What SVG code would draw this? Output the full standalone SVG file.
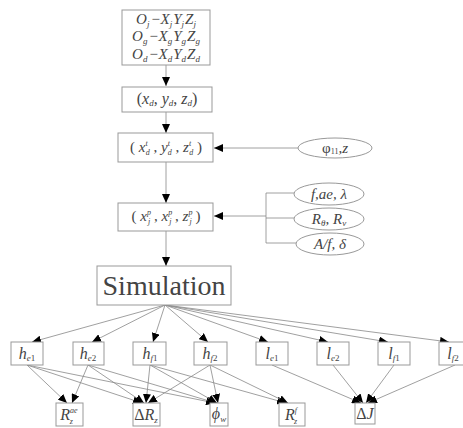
<svg xmlns="http://www.w3.org/2000/svg" width="463" height="428" viewBox="0 0 463 428">
<style>
.box{fill:#fff;stroke:#999;stroke-width:1}
.ell{fill:#fff;stroke:#999;stroke-width:1}
.ln{fill:none;stroke:#888;stroke-width:0.8}
.ar{fill:none;stroke:#888;stroke-width:0.8;marker-end:url(#ah)}
.t{fill:#444;text-anchor:middle}
.it{font-style:italic}
.s{font-size:9px}
.ss{font-size:8px}
</style>
<defs>
<marker id="ah" markerUnits="userSpaceOnUse" markerWidth="10" markerHeight="8" refX="9" refY="4" orient="auto">
<path d="M0,0 L9,4 L0,8 Z" fill="#000"/>
</marker>
</defs>
<rect width="463" height="428" fill="#fff"/>

<g id="connectors">
<line class="ar" x1="166" y1="65" x2="166" y2="86"/>
<line class="ar" x1="166" y1="112" x2="166" y2="133"/>
<line class="ar" x1="166" y1="162" x2="166" y2="203"/>
<line class="ar" x1="166" y1="231" x2="166" y2="266"/>
<line class="ar" x1="298" y1="148" x2="214" y2="148"/>
<polyline class="ln" points="294,193 266,193 266,243 296,243"/>
<line class="ln" x1="266" y1="218" x2="294" y2="218"/>
<line class="ar" x1="266" y1="216" x2="214" y2="216"/>
<line class="ar" x1="165" y1="305" x2="32" y2="342"/>
<line class="ar" x1="165" y1="305" x2="92" y2="342"/>
<line class="ar" x1="165" y1="305" x2="153" y2="342"/>
<line class="ar" x1="165" y1="305" x2="208" y2="342"/>
<line class="ar" x1="165" y1="305" x2="268" y2="342"/>
<line class="ar" x1="165" y1="305" x2="328" y2="342"/>
<line class="ar" x1="165" y1="305" x2="388" y2="342"/>
<line class="ar" x1="165" y1="305" x2="449" y2="342"/>
<line class="ar" x1="27" y1="365" x2="67" y2="403"/>
<line class="ar" x1="27" y1="365" x2="142" y2="403"/>
<line class="ar" x1="27" y1="365" x2="215" y2="403"/>
<line class="ar" x1="88" y1="365" x2="72" y2="403"/>
<line class="ar" x1="88" y1="365" x2="144" y2="403"/>
<line class="ar" x1="88" y1="365" x2="216" y2="403"/>
<line class="ar" x1="150" y1="365" x2="146" y2="403"/>
<line class="ar" x1="150" y1="365" x2="217" y2="403"/>
<line class="ar" x1="150" y1="365" x2="286" y2="403"/>
<line class="ar" x1="210" y1="365" x2="148" y2="403"/>
<line class="ar" x1="210" y1="365" x2="218" y2="403"/>
<line class="ar" x1="210" y1="365" x2="288" y2="403"/>
<line class="ar" x1="272" y1="365" x2="361" y2="403"/>
<line class="ar" x1="333" y1="365" x2="363" y2="403"/>
<line class="ar" x1="394" y1="365" x2="366" y2="403"/>
<line class="ar" x1="455" y1="365" x2="368" y2="403"/>
</g>

<g font-family="Liberation Serif, Times New Roman, serif">
<g id="n-frames">
<rect class="box" x="122" y="10" width="88" height="55"/>
<text class="t it" x="166" y="24" font-size="15">O<tspan class="s" dy="3">j</tspan><tspan dy="-3" dx="1">−X</tspan><tspan class="s" dy="3">j</tspan><tspan dy="-3" dx="1">Y</tspan><tspan class="s" dy="3">j</tspan><tspan dy="-3" dx="1">Z</tspan><tspan class="s" dy="3">j</tspan></text>
<text class="t it" x="166" y="41" font-size="15">O<tspan class="s" dy="3">g</tspan><tspan dy="-3" dx="1">−X</tspan><tspan class="s" dy="3">g</tspan><tspan dy="-3" dx="1">Y</tspan><tspan class="s" dy="3">g</tspan><tspan dy="-3" dx="1">Z</tspan><tspan class="s" dy="3">g</tspan></text>
<text class="t it" x="166" y="59" font-size="15">O<tspan class="s" dy="3">d</tspan><tspan dy="-3" dx="1">−X</tspan><tspan class="s" dy="3">d</tspan><tspan dy="-3" dx="1">Y</tspan><tspan class="s" dy="3">d</tspan><tspan dy="-3" dx="1">Z</tspan><tspan class="s" dy="3">d</tspan></text>
</g>

<g id="n-xd">
<rect class="box" x="122" y="87" width="90" height="25"/>
<text class="t" x="167" y="104" font-size="16">(<tspan class="it">x</tspan><tspan class="s it" dy="2">d</tspan><tspan dy="-2">,  </tspan><tspan class="it">y</tspan><tspan class="s it" dy="2">d</tspan><tspan dy="-2">,  </tspan><tspan class="it">z</tspan><tspan class="s it" dy="2">d</tspan><tspan dy="-2">)</tspan></text>
</g>

<g id="n-xdt">
<rect class="box" x="118" y="133" width="95" height="29"/>
<text class="t" x="166" y="152" font-size="15">(  <tspan class="it">x</tspan><tspan class="ss it" dy="-6">t</tspan><tspan class="ss it" dx="-2" dy="9">d</tspan><tspan dy="-3"> , </tspan><tspan class="it">y</tspan><tspan class="ss it" dy="-6">t</tspan><tspan class="ss it" dx="-2" dy="9">d</tspan><tspan dy="-3"> , </tspan><tspan class="it">z</tspan><tspan class="ss it" dy="-6">t</tspan><tspan class="ss it" dx="-2" dy="9">d</tspan><tspan dy="-3">  )</tspan></text>
</g>

<g id="n-xjp">
<rect class="box" x="118" y="203" width="95" height="28"/>
<text class="t" x="166" y="221" font-size="15">( <tspan class="it">x</tspan><tspan class="ss it" dy="-6">p</tspan><tspan class="ss it" dx="-3" dy="9">j</tspan><tspan dy="-3"> , </tspan><tspan class="it">x</tspan><tspan class="ss it" dy="-6">p</tspan><tspan class="ss it" dx="-3" dy="9">j</tspan><tspan dy="-3"> , </tspan><tspan class="it">z</tspan><tspan class="ss it" dy="-6">p</tspan><tspan class="ss it" dx="-3" dy="9">j</tspan><tspan dy="-3"> )</tspan></text>
</g>

<g id="n-phi">
<ellipse class="ell" cx="335" cy="148" rx="37" ry="10"/>
<text class="t" x="335" y="153" font-size="15">φ<tspan class="ss" dy="1">11</tspan><tspan dy="-1" class="it">,z</tspan></text>
</g>

<g id="n-fae">
<ellipse class="ell" cx="329" cy="194" rx="35" ry="11"/>
<text class="t it" x="329" y="199" font-size="15">f,ae, λ</text>
</g>

<g id="n-r">
<ellipse class="ell" cx="329" cy="219" rx="35" ry="11"/>
<text class="t it" x="329" y="224" font-size="15">R<tspan class="s" dy="2">θ</tspan><tspan dy="-2">, R</tspan><tspan class="s" dy="2">v</tspan></text>
</g>

<g id="n-af">
<ellipse class="ell" cx="330" cy="244" rx="34" ry="11"/>
<text class="t it" x="330" y="249" font-size="15">A/f, δ</text>
</g>

<g id="n-sim">
<rect class="box" x="97" y="266" width="134" height="39"/>
<text class="t" x="164" y="295" font-size="28">Simulation</text>
</g>

<g id="n-he1"><rect class="box" x="11" y="342" width="32" height="23"/><text class="t" x="27" y="359" font-size="16"><tspan class="it">h</tspan><tspan class="s it" dy="2">e</tspan><tspan class="s">1</tspan></text></g>
<g id="n-he2"><rect class="box" x="73" y="342" width="31" height="23"/><text class="t" x="88" y="359" font-size="16"><tspan class="it">h</tspan><tspan class="s it" dy="2">e</tspan><tspan class="s">2</tspan></text></g>
<g id="n-hf1"><rect class="box" x="133" y="342" width="33" height="23"/><text class="t" x="150" y="359" font-size="16"><tspan class="it">h</tspan><tspan class="s it" dy="2">f</tspan><tspan class="s">1</tspan></text></g>
<g id="n-hf2"><rect class="box" x="194" y="342" width="33" height="23"/><text class="t" x="210" y="359" font-size="16"><tspan class="it">h</tspan><tspan class="s it" dy="2">f</tspan><tspan class="s">2</tspan></text></g>
<g id="n-le1"><rect class="box" x="256" y="342" width="32" height="23"/><text class="t" x="272" y="359" font-size="16"><tspan class="it">l</tspan><tspan class="s it" dy="2">e</tspan><tspan class="s">1</tspan></text></g>
<g id="n-le2"><rect class="box" x="317" y="342" width="32" height="23"/><text class="t" x="333" y="359" font-size="16"><tspan class="it">l</tspan><tspan class="s it" dy="2">e</tspan><tspan class="s">2</tspan></text></g>
<g id="n-lf1"><rect class="box" x="378" y="342" width="32" height="23"/><text class="t" x="394" y="359" font-size="16"><tspan class="it">l</tspan><tspan class="s it" dy="2">f</tspan><tspan class="s">1</tspan></text></g>
<g id="n-lf2"><rect class="box" x="439" y="342" width="32" height="23"/><text class="t" x="453" y="359" font-size="16"><tspan class="it">l</tspan><tspan class="s it" dy="2">f</tspan><tspan class="s">2</tspan></text></g>

<g id="n-rae"><rect class="box" x="56" y="403" width="27" height="23"/><text class="t it" x="69" y="420" font-size="16">R<tspan class="ss" dy="-7">ae</tspan><tspan class="ss" dx="-8" dy="11">z</tspan></text></g>
<g id="n-dr"><rect class="box" x="133" y="403" width="27" height="23"/><text class="t" x="146" y="420" font-size="16">Δ<tspan class="it">R</tspan><tspan class="s it" dy="3">z</tspan></text></g>
<g id="n-phiw"><rect class="box" x="210" y="403" width="18" height="23"/><text class="t it" x="219" y="419" font-size="16">ϕ<tspan class="s" dy="3">w</tspan></text></g>
<g id="n-rf"><rect class="box" x="279" y="403" width="26" height="23"/><text class="t it" x="291" y="420" font-size="16">R<tspan class="ss" dy="-7">f</tspan><tspan class="ss" dx="-3" dy="11">z</tspan></text></g>
<g id="n-dj"><rect class="box" x="355" y="403" width="20" height="21"/><text class="t" x="365" y="419" font-size="16">Δ<tspan class="it">J</tspan></text></g>
</g>
</svg>
